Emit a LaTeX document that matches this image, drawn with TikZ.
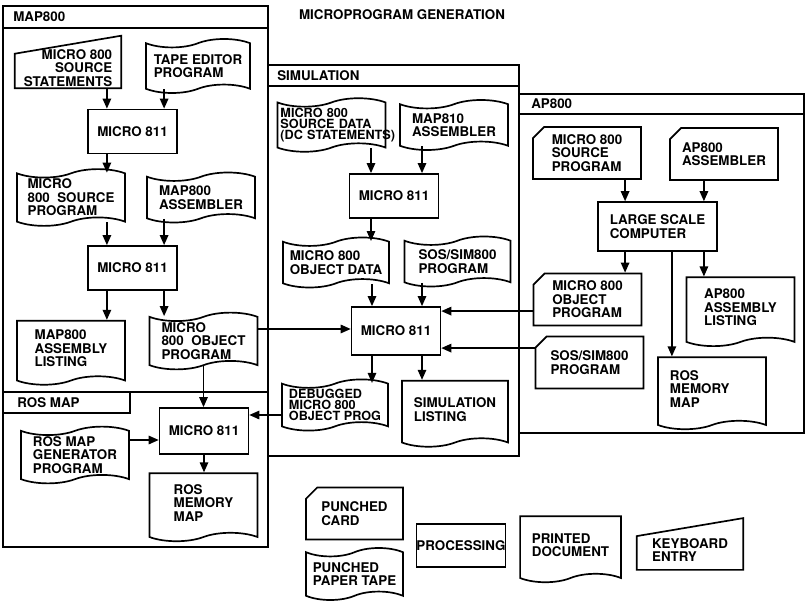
\documentclass[tikz,border=0pt]{standalone}
\usepackage{fontspec}
\setmainfont{TeX Gyre Heros}
\usetikzlibrary{shapes.symbols,shapes.misc,arrows.meta,positioning}
\tikzset{
  proc/.style={rectangle, draw=black, line width=1.2pt, minimum width=2.22cm, minimum height=1.1cm, align=center, inner sep=1pt},
  tapebox/.style={tape, draw=black, line width=1.2pt, tape bend height=6pt, minimum width=2.7cm, minimum height=1.25cm, align=left, inner sep=1pt},
  docbox/.style={tapebox, tape bend top=none, minimum height=1.65cm},
  card/.style={chamfered rectangle, chamfered rectangle corners=north west, chamfered rectangle xsep=1.4mm, chamfered rectangle ysep=1.4mm, draw=black, line width=1.2pt, minimum width=2.7cm, minimum height=1.3cm, align=left, inner sep=1pt},
  % text part only, the slanted outline is drawn afterwards
  keyin/.style={rectangle, minimum width=2.65cm, minimum height=1cm, inner sep=1pt},
  panel/.style={draw=black, line width=1.4pt},
  tag/.style={anchor=west, inner sep=0pt},
  tight/.style={font=\fontsize{9}{7.8}\selectfont\bfseries},
  arr/.style={-{Triangle[length=2.5mm, width=2.1mm]}, draw=black, line width=1.1pt},
}

\begin{document}
\begin{tikzpicture}[x=0.025cm, y=-0.025cm, every node/.style={font=\fontsize{9.5}{9.6}\selectfont\bfseries}]
\useasboundingbox (0,0) rectangle (808,602);

% panels
\draw[panel] (3,6) rectangle (268,547);
\draw[panel] (3,28) -- (268,28);
\draw[panel] (3,392) -- (268,392);
\draw[panel] (3,413) -- (130,413) -- (130,392);
\draw[panel] (268,65) rectangle (519,456);
\draw[panel] (268,86) -- (519,86);
\draw[panel] (519,94) rectangle (804,433);
\draw[panel] (519,114) -- (804,114);

\node (title) at (402,15) {MICROPROGRAM GENERATION};

% MAP800
\node[tag] (mapttl) at (13,17) {MAP800};
\node[keyin, align=right] (mss) at (68,68) {MICRO 800\\SOURCE\\STATEMENTS};
\node[tapebox, minimum width=2.6cm, minimum height=1.35cm] (ted) at (198,66) {TAPE EDITOR\\PROGRAM};
\node[proc] (m1) at (132.5,131.5) {MICRO 811};
\node[tapebox] (msp) at (71,197.5) {MICRO\\800\ \ SOURCE\\PROGRAM};
\node[tapebox] (mas) at (201,197.5) {MAP800\\ASSEMBLER};
\node[proc] (m2) at (132.5,268) {MICRO 811};
\node[docbox, minimum height=1.6cm] (mal) at (71,348.5) {MAP800\\ASSEMBLY\\LISTING};
\node[tapebox] (mop) at (203.5,341) {MICRO\\800\ \ OBJECT\\PROGRAM};

% ROS MAP
\node[tag] (rosttl) at (17,402.5) {ROS MAP};
\node[proc, minimum height=1.15cm] (m3) at (204,431) {MICRO 811};
\node[tapebox] (rgp) at (75,455) {ROS MAP\\GENERATOR\\PROGRAM};
\node[docbox, minimum height=1.7cm] (rmm) at (203.5,503) {ROS\\MEMORY\\MAP};

% SIMULATION
\node[tag] (simttl) at (277,75.5) {SIMULATION};
\node[tapebox, tight, text width=2.55cm] (sds) at (331.5,125) {MICRO 800\\SOURCE DATA\\\mbox{(DC STATEMENTS)}};
\node[tapebox] (mpa) at (454,125) {MAP810\\ASSEMBLER};
\node[proc] (s1) at (394,196) {MICRO 811};
\node[tapebox, minimum width=2.65cm] (mod) at (336,262.5) {MICRO 800\\OBJECT DATA};
\node[tapebox, minimum width=2.65cm] (ssp) at (457.5,261.5) {SOS/SIM800\\PROGRAM};
\node[proc, minimum height=1.2cm] (s2) at (396,331) {MICRO 811};
\node[tapebox, tight, minimum width=2.65cm] (dmo) at (335,405) {DEBUGGED\\MICRO 800\\OBJECT PROG};
\node[docbox, minimum width=2.65cm] (sli) at (455,409.5) {SIMULATION\\LISTING};

% AP800
\node[tag] (apttl) at (531,104) {AP800};
\node[card] (msp2) at (587,153) {MICRO 800\\SOURCE\\PROGRAM};
\node[card] (aas) at (724,154) {AP800\\ASSEMBLER};
\node[proc, minimum width=2.98cm, minimum height=1.22cm, align=left] (lsc) at (657.5,226.5) {LARGE SCALE\\COMPUTER};
\node[card] (mop2) at (587.5,299.5) {MICRO 800\\OBJECT\\PROGRAM};
\node[docbox, minimum height=1.72cm] (aal) at (740.5,307.5) {AP800\\ASSEMBLY\\LISTING};
\node[docbox, minimum height=1.8cm, text width=2.1cm] (rmm2) at (712,389) {ROS\\MEMORY\\MAP};
\node[card] (ssp2) at (589.5,362.5) {SOS/SIM800\\PROGRAM};

% legend
\node[card, minimum width=2.42cm] (lcard) at (354.5,513.5) {PUNCHED\\CARD};
\node[tapebox, minimum width=2.42cm, minimum height=1.3cm] (ltape) at (354.5,574) {PUNCHED\\PAPER TAPE};
\node[proc, minimum width=2.2cm, minimum height=1.08cm, inner sep=0pt] (lproc) at (461,545.5) {PROCESSING};
\node[docbox, minimum width=2.52cm, minimum height=1.65cm] (ldoc) at (570.5,545) {PRINTED\\DOCUMENT};
\node[keyin, minimum height=0.98cm, align=left] (lkey) at (690,550) {KEYBOARD\\ENTRY};

% keyboard entry outlines
\foreach \k in {mss,lkey}
  \draw[line width=1.2pt] (\k.south west) -- (\k.south east) -- ([yshift=3mm]\k.north east) -- ([yshift=-1.5mm]\k.north west) -- cycle;

% MAP800 flow
\draw[arr] ([xshift=-6.4mm]m1.north |- mss.south) -- ([xshift=-6.4mm]m1.north);
\draw[arr] ([xshift=7.9mm]m1.north |- ted.south) -- ([xshift=7.9mm]m1.north);
\draw[arr] ([xshift=-6.4mm]m1.south) -- ([xshift=-6.4mm]m1.south |- msp.north);
\draw[arr] ([xshift=-6.4mm]m2.north |- msp.south) -- ([xshift=-6.4mm]m2.north);
\draw[arr] ([xshift=7.9mm]m2.north |- mas.south) -- ([xshift=7.9mm]m2.north);
\draw[arr] ([xshift=-6.4mm]m2.south) -- ([xshift=-6.4mm]m2.south |- mal.north);
\draw[arr] ([xshift=7.9mm]m2.south) -- ([xshift=7.9mm]m2.south |- mop.north);
\draw[arr] (mop.south) -- (mop.south |- m3.north);
\draw[arr] ([yshift=3mm]mop.east) -- ([yshift=3mm]mop.east -| s2.west);

% SIMULATION flow
\draw[arr] ([xshift=-5.75mm]s1.north |- sds.south) -- ([xshift=-5.75mm]s1.north);
\draw[arr] ([xshift=7mm]s1.north |- mpa.south) -- ([xshift=7mm]s1.north);
\draw[arr] ([xshift=-5.75mm]s1.south) -- ([xshift=-5.75mm]s1.south |- mod.north);
\draw[arr] ([xshift=-6mm]s2.north |- mod.south) -- ([xshift=-6mm]s2.north);
\draw[arr] ([xshift=6.5mm]s2.north |- ssp.south) -- ([xshift=6.5mm]s2.north);
\draw[arr] ([xshift=-6mm]s2.south) -- ([xshift=-6mm]s2.south |- dmo.north);
\draw[arr] ([xshift=6.5mm]s2.south) -- ([xshift=6.5mm]s2.south |- sli.north);
\draw[arr] ([yshift=-2.5mm]dmo.west) -- ([yshift=-2.5mm]dmo.west -| m3.east);

% AP800 flow
\draw[arr] ([xshift=-8.1mm]lsc.north |- msp2.south) -- ([xshift=-8.1mm]lsc.north);
\draw[arr] ([xshift=11.6mm]lsc.north |- aas.south) -- ([xshift=11.6mm]lsc.north);
\draw[arr] ([xshift=-8.1mm]lsc.south) -- ([xshift=-8.1mm]lsc.south |- mop2.north);
\draw[arr] ([xshift=11.6mm]lsc.south) -- ([xshift=11.6mm]lsc.south |- aal.north);
\draw[arr] ([xshift=3.6mm]lsc.south) -- ([xshift=3.6mm]lsc.south |- rmm2.north);
\draw[arr] ([yshift=-2.9mm]mop2.west) -- ([yshift=-2.9mm]mop2.west -| s2.east);
\draw[arr] ([yshift=3.6mm]ssp2.west) -- ([yshift=3.6mm]ssp2.west -| s2.east);

% ROS MAP flow
\draw[arr] ([yshift=-2.25mm]m3.west -| rgp.east) -- ([yshift=-2.25mm]m3.west);
\draw[arr] (m3.south) -- (m3.south |- rmm.north);
\end{tikzpicture}
\end{document}
